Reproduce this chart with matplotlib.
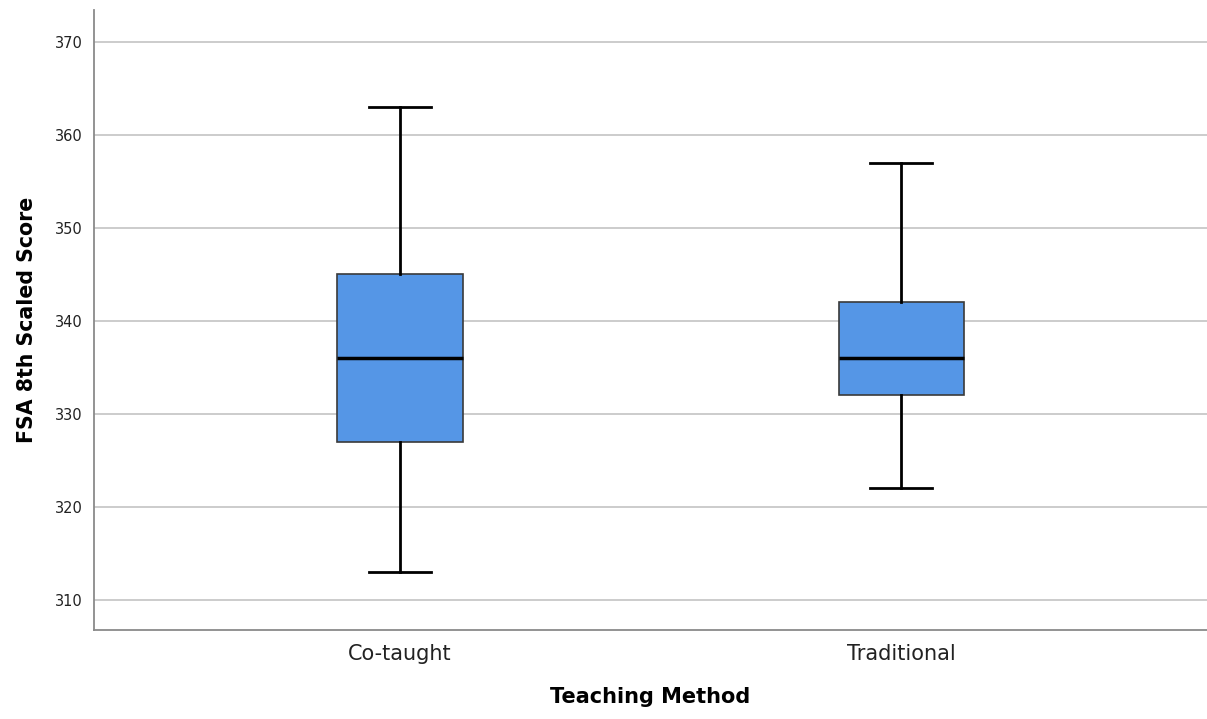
import matplotlib
matplotlib.use("Agg")
import matplotlib.pyplot as plt

# Lest av bildet
groups = ["Co-taught", "Traditional"]
whislo = [313, 322]
q1 = [327, 332]
med = [336, 336]
q3 = [345, 342]
whishi = [363, 357]
yticks = [310, 320, 330, 340, 350, 360, 370]

plt.rcParams["font.family"] = ["DejaVu Sans"]

fig = plt.figure(figsize=(12.07, 7.19), dpi=100)
ax = fig.add_axes([0.078, 0.124, 0.922, 0.862])

stats = []
for i in range(len(groups)):
    stats.append({"label": groups[i], "whislo": whislo[i], "q1": q1[i], "med": med[i],
                  "q3": q3[i], "whishi": whishi[i], "fliers": []})

ax.bxp(stats, positions=[0, 1], widths=0.25, patch_artist=True, showfliers=False,
       boxprops=dict(facecolor="#5596e6", edgecolor="#3a3a3a", linewidth=1.2),
       medianprops=dict(color="black", linewidth=2.5),
       whiskerprops=dict(color="black", linewidth=2),
       capprops=dict(color="black", linewidth=2),
       capwidths=0.124, zorder=3)

ax.set_xlim(-0.61, 1.61)
ax.set_ylim(306.8, 373.4)
ax.set_yticks(yticks)
ax.yaxis.grid(True, color="#c8c8c8", linewidth=1.3)
ax.set_axisbelow(True)
ax.tick_params(axis="both", length=0, colors="#222222")
ax.tick_params(axis="y", labelsize=10.5, pad=8)
ax.tick_params(axis="x", labelsize=15, pad=10)

for s in ["top", "right"]:
    ax.spines[s].set_visible(False)
for s in ["left", "bottom"]:
    ax.spines[s].set_color("#8a8a8a")
    ax.spines[s].set_linewidth(1.3)

ax.set_xlabel("Teaching Method", fontsize=15, fontweight="bold", labelpad=17)
ax.set_ylabel("FSA 8th Scaled Score", fontsize=14.8, fontweight="bold", labelpad=13)

fig.savefig("out.png", dpi=100)
